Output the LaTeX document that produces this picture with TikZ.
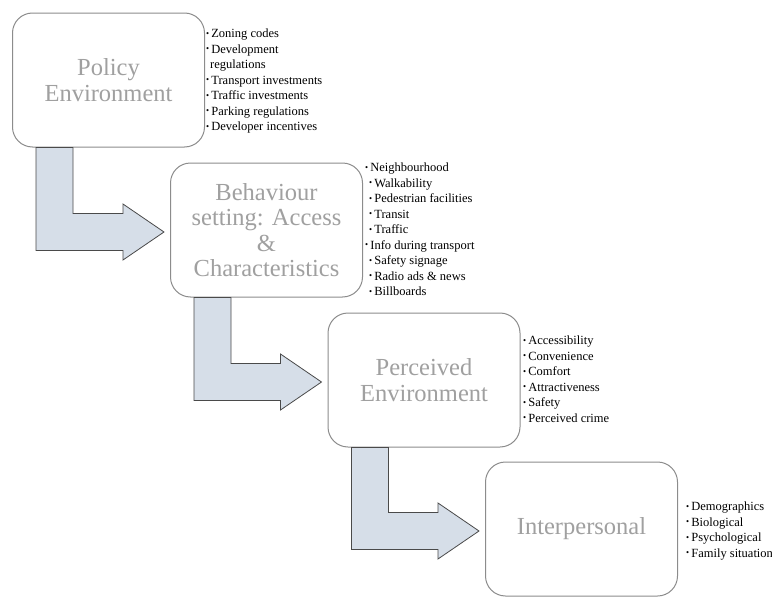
\documentclass[tikz,border=0pt]{standalone}
\usepackage{fontspec}
\setmainfont{Liberation Serif}
\usepackage{tikz}
\usetikzlibrary{calc}
\definecolor{boxline}{HTML}{8C8C8C}
\definecolor{labelgray}{HTML}{A0A0A0}
\definecolor{arrowfill}{HTML}{D6DEE8}
\definecolor{arrowline}{HTML}{4A4A4A}
\newcommand{\BigLabel}{\fontsize{24.5}{25.5}\selectfont}
\newcommand{\ListFont}{\fontsize{12.5}{15.5}\selectfont}
\newcommand{\bul}{\raisebox{0.3ex}{\scalebox{0.7}{\textbullet}}\,}
\newcommand{\BentArrow}[2]{%
  \path[bentarrow] let \p1=($(#1.south west)+(24,0)$), \p2=($(#2.west)+(-6,2)$) in
    (\x1,\y1) -- ($(\x1,\y2)+(0,18.5)$) -- ($(\x2,\y2)+(-41,18.5)$) -- ($(\x2,\y2)+(-41,28)$)
    -- (\x2,\y2) -- ($(\x2,\y2)+(-41,-28)$) -- ($(\x2,\y2)+(-41,-18.5)$)
    -- ($(\x1,\y2)+(37,-18.5)$) -- ($(\x1,\y1)+(37,0)$) -- cycle;}

\begin{document}
\begin{tikzpicture}[x=1pt,y=-1pt,
    stagebox/.style={draw=boxline,line width=1pt,fill=white,rounded corners=20pt,
      minimum width=192pt,minimum height=134pt,align=center,text=labelgray,font=\BigLabel},
    bullets/.style={anchor=north west,inner sep=0pt,align=left,font=\ListFont},
    bentarrow/.style={fill=arrowfill,draw=arrowline,line width=0.8pt}]
          \useasboundingbox (0,0) rectangle (772,597);
          \node[stagebox] (policy) at (108.5,80) {Policy\\Environment};
          \node[stagebox] (behaviour) at (266.5,230) {Behaviour\\setting: Access\\\&\\Characteristics};
          \node[stagebox] (perceived) at (424,380) {Perceived\\Environment};
          \node[stagebox] (interpersonal) at (581.5,529) {Interpersonal};
          \BentArrow{policy}{behaviour}
          \BentArrow{behaviour}{perceived}
          \BentArrow{perceived}{interpersonal}
          \node[bullets] (polList) at (206,29) {\bul Zoning codes\\\bul Development\\\hspace*{4pt}regulations\\\bul Transport investments\\\bul Traffic investments\\\bul Parking regulations\\\bul Developer incentives};
          \node[bullets] (behList) at (365,163) {\bul Neighbourhood\\\hspace*{4pt}\bul Walkability\\\hspace*{4pt}\bul Pedestrian facilities\\\hspace*{4pt}\bul Transit\\\hspace*{4pt}\bul Traffic\\\bul Info during transport\\\hspace*{4pt}\bul Safety signage\\\hspace*{4pt}\bul Radio ads \& news\\\hspace*{4pt}\bul Billboards};
          \node[bullets] (perList) at (523,336) {\bul Accessibility\\\bul Convenience\\\bul Comfort\\\bul Attractiveness\\\bul Safety\\\bul Perceived crime};
          \node[bullets] (intList) at (686,502) {\bul Demographics\\\bul Biological\\\bul Psychological\\\bul Family situation};
        \end{tikzpicture}
\end{document}
